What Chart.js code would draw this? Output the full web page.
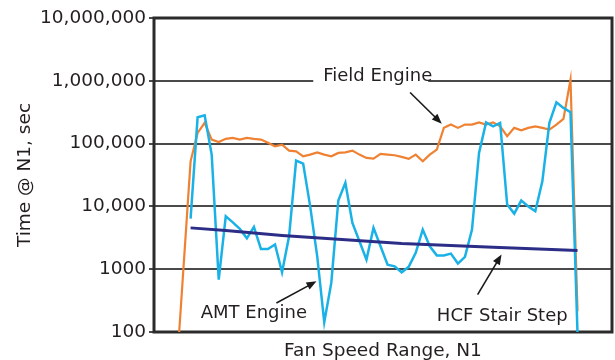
<!DOCTYPE html>
<html lang="en">
<head>
    <meta charset="UTF-8" />
    <title>Time @ N1 vs Fan Speed Range</title>
    <script src="https://cdn.jsdelivr.net/npm/chart.js"></script>
    <style>
        html, body {
            margin: 0;
            padding: 0;
            background: #fff;
        }
        #wrap {
            width: 615px;
            height: 360px;
        }
    </style>
</head>
<body>
    <div id="wrap"><canvas id="grafico" width="615" height="360"></canvas></div>

    <script>
        // y axis decades and the labels printed next to them
        const tickValues = [100, 1000, 10000, 100000, 1000000, 10000000];
        const tickLabels = ['100', '1000', '10,000', '100,000', '1,000,000', '10,000,000'];

        // Field Engine, steps -2..55 (step -1 missing, line runs off the bottom)
        const fieldEngine = [23, null,
            52200, 148000, 214000, 116000, 106000, 119000, 123000, 116000, 123000, 119000,
            116000, 103000, 90600, 96400, 77400, 75400, 62800, 66800, 72600, 66800,
            62800, 71100, 72600, 77400, 66800, 59200, 57700, 68500, 66800, 65200,
            61400, 57000, 66800, 52200, 66800, 80200, 178000, 201000, 178000, 201000,
            201000, 218000, 201000, 218000, 188000, 131000, 178000, 163000, 178000, 188000,
            178000, 167000, 201000, 247000, 1040000, 214];

        // AMT Engine, steps 0..55
        const amtEngine = [6400, 262000, 282000, 66800, 682, 6950, 5580, 4380, 3100, 4720,
            2100, 2100, 2470, 893, 3340, 53600, 48000, 10000, 1600, 143,
            605, 12400, 23700, 5460, 2780, 1420, 4550, 2320, 1180, 1110,
            893, 1090, 1820, 4270, 2320, 1660, 1660, 1770, 1230, 1570,
            4270, 71100, 218000, 188000, 214000, 10700, 7680, 12400, 10000, 8360,
            25100, 214000, 455000, 370000, 315000, 95];

        // HCF Stair Step
        const hcfSteps = [0, 5, 13, 30, 43, 55];
        const hcfValues = [4550, 4120, 3430, 2560, 2230, 1980];

        // callouts, in data coordinates (step, seconds)
        const callouts = [
            { text: 'Field Engine', at: [26.6, 1170000], from: [31.2, 650000], to: [35.7, 208000], knockout: true },
            { text: 'AMT Engine', at: [9.0, 200], from: [12.2, 290], to: [17.9, 641] },
            { text: 'HCF Stair Step', at: [44.3, 178], from: [40.8, 394], to: [44.2, 1710] }
        ];

        const fuente = 'DejaVu Sans';
        const tinta = '#231f20';

        const marco = {
            id: 'marco',
            beforeDatasetsDraw(chart) {
                const { ctx, chartArea: a } = chart;
                ctx.save();
                ctx.strokeStyle = '#2b2b2b';
                ctx.lineWidth = 3;
                ctx.strokeRect(a.left, a.top, a.right - a.left, a.bottom - a.top);
                ctx.restore();
            }
        };

        const notas = {
            id: 'notas',
            afterDatasetsDraw(chart) {
                const { ctx } = chart;
                const x = chart.scales.x, y = chart.scales.y;
                ctx.save();
                ctx.font = '18px "' + fuente + '"';
                ctx.textAlign = 'center';
                ctx.textBaseline = 'middle';
                callouts.forEach(c => {
                    const tx = x.getPixelForValue(c.at[0]);
                    const ty = y.getPixelForValue(c.at[1]);
                    const w = ctx.measureText(c.text).width;
                    if (c.knockout) {
                        ctx.fillStyle = '#fff';
                        ctx.fillRect(tx - w / 2 - 10, ty - 9, w + 6, 18);
                    }
                    ctx.fillStyle = tinta;
                    ctx.fillText(c.text, tx, ty);

                    // arrow
                    const x1 = x.getPixelForValue(c.from[0]), y1 = y.getPixelForValue(c.from[1]);
                    const x2 = x.getPixelForValue(c.to[0]), y2 = y.getPixelForValue(c.to[1]);
                    const ang = Math.atan2(y2 - y1, x2 - x1);
                    const len = 10, half = 4;
                    ctx.strokeStyle = '#1a1a1a';
                    ctx.lineWidth = 1.6;
                    ctx.beginPath();
                    ctx.moveTo(x1, y1);
                    ctx.lineTo(x2 - Math.cos(ang) * len * 0.8, y2 - Math.sin(ang) * len * 0.8);
                    ctx.stroke();
                    ctx.fillStyle = '#1a1a1a';
                    ctx.beginPath();
                    ctx.moveTo(x2, y2);
                    ctx.lineTo(x2 - Math.cos(ang) * len - Math.sin(ang) * half, y2 - Math.sin(ang) * len + Math.cos(ang) * half);
                    ctx.lineTo(x2 - Math.cos(ang) * len + Math.sin(ang) * half, y2 - Math.sin(ang) * len - Math.cos(ang) * half);
                    ctx.closePath();
                    ctx.fill();
                });
                ctx.restore();
            }
        };

        new Chart(document.getElementById('grafico'), {
            type: 'line',
            data: {
                datasets: [
                    {
                        label: 'HCF Stair Step',
                        data: hcfSteps.map((s, k) => ({ x: s, y: hcfValues[k] })),
                        borderColor: '#2c2d86',
                        borderWidth: 3,
                        pointRadius: 0
                    },
                    {
                        label: 'AMT Engine',
                        data: amtEngine.map((v, k) => ({ x: k, y: v })),
                        borderColor: '#1ab2e6',
                        borderWidth: 2.5,
                        pointRadius: 0
                    },
                    {
                        label: 'Field Engine',
                        data: fieldEngine.map((v, k) => ({ x: k - 2, y: v })),
                        borderColor: '#ef8232',
                        borderWidth: 2.2,
                        pointRadius: 0,
                        spanGaps: true
                    }
                ]
            },
            options: {
                responsive: false,
                animation: false,
                events: [],
                layout: { padding: { top: 18, right: 3, bottom: 0, left: 0 } },
                plugins: {
                    legend: { display: false },
                    tooltip: { enabled: false }
                },
                scales: {
                    x: {
                        type: 'linear',
                        min: -5.2,
                        max: 59.9,
                        grid: { display: false },
                        border: { display: false },
                        ticks: { display: false },
                        title: {
                            display: true,
                            text: 'Fan Speed Range, N1',
                            color: tinta,
                            font: { family: fuente, size: 18.5, lineHeight: 1 },
                            padding: { top: 0, bottom: 0 }
                        },
                        afterFit: (s) => { s.height = 28; }
                    },
                    y: {
                        type: 'logarithmic',
                        min: 100,
                        max: 10000000,
                        afterBuildTicks: (s) => { s.ticks = tickValues.map(v => ({ value: v })); },
                        ticks: {
                            color: tinta,
                            font: { family: fuente, size: 18.5 },
                            padding: 3,
                            callback: (v) => tickLabels[tickValues.indexOf(v)]
                        },
                        grid: {
                            color: '#4a4a4a',
                            lineWidth: 2,
                            tickLength: 5
                        },
                        border: { display: false },
                        title: {
                            display: true,
                            text: 'Time @ N1, sec',
                            color: tinta,
                            font: { family: fuente, size: 18.5 },
                            padding: { top: 14, bottom: 0 }
                        },
                        afterFit: (s) => { s.width = 154; }
                    }
                }
            },
            plugins: [marco, notas]
        });
    </script>
</body>
</html>
